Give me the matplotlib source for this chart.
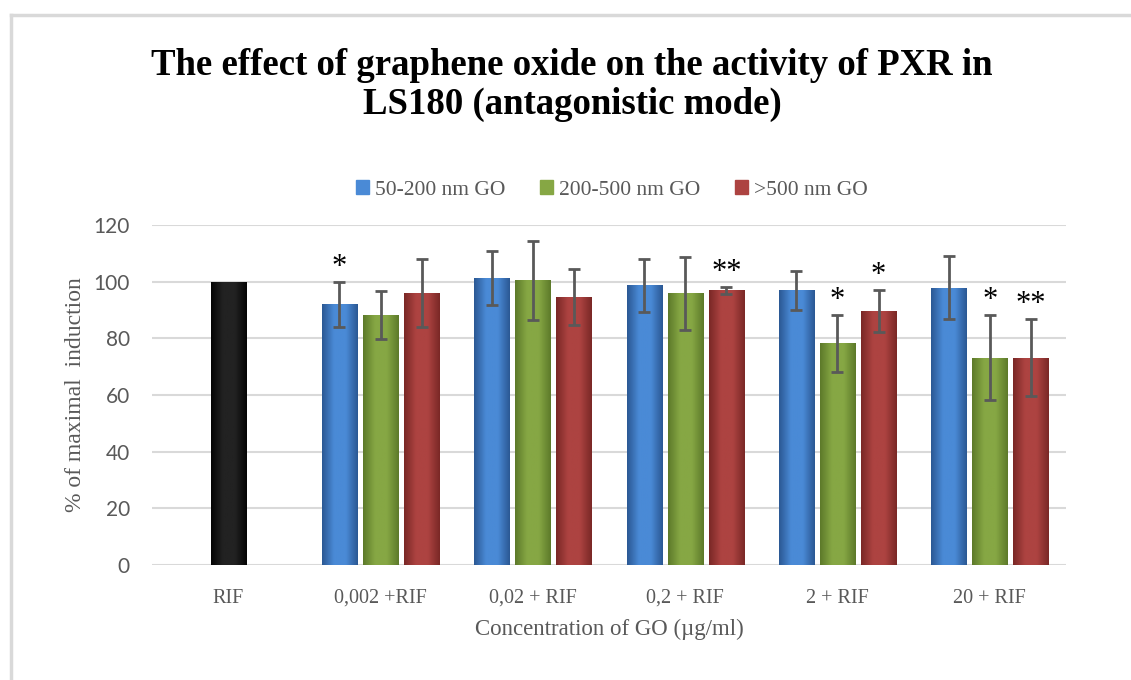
import matplotlib.pyplot as plt
import numpy as np
from matplotlib.lines import Line2D
from matplotlib.colors import LinearSegmentedColormap

# data
categories = ['RIF', '0,002 +RIF', '0,02 + RIF', '0,2 + RIF', '2 + RIF', '20 + RIF']
series = ['50-200 nm GO', '200-500 nm GO', '>500 nm GO']
rif_value = 100
small_go = [92.0, 101.4, 98.7, 96.9, 97.9]
small_err = [8.0, 9.5, 9.3, 6.8, 11.0]
mid_go = [88.2, 100.5, 95.9, 78.2, 73.1]
mid_err = [8.5, 14.0, 12.8, 10.0, 15.0]
large_go = [95.9, 94.6, 96.9, 89.6, 73.1]
large_err = [12.0, 10.0, 1.2, 7.3, 13.6]
small_stars = ['*', '', '', '', '']
mid_stars = ['', '', '', '*', '*']
large_stars = ['', '', '**', '*', '**']

# (edge, centre) colours for the bar gradient
shades = [('#2b5894', '#4a8ad6'), ('#5d7a2a', '#86a744'), ('#7a2826', '#ad4341')]
black_shade = ('#050505', '#222222')

fig = plt.figure(figsize=(11.31, 6.8), dpi=100)
ax = fig.add_axes([152/1131, 115/680, 914/1131, 340/680])

serif = 'Liberation Serif'
grey = '#595959'


def gradient_bar(ax, x, h, w, colors):
    bar = ax.bar(x, h, w, color=colors[1], zorder=2)[0]
    cmap = LinearSegmentedColormap.from_list('g', [colors[0], colors[1], colors[1], colors[0]])
    grad = np.linspace(0, 1, 64).reshape(1, -1)
    im = ax.imshow(grad, cmap=cmap, aspect='auto', extent=(x - w/2, x + w/2, 0, h), zorder=2.1)
    im.set_clip_path(bar)
    return bar


w = 0.23
off = 0.27
xs = np.arange(1, len(categories))

gradient_bar(ax, 0, rif_value, w, black_shade)

groups = [(small_go, small_err, small_stars), (mid_go, mid_err, mid_stars), (large_go, large_err, large_stars)]
for i, (vals, errs, stars) in enumerate(groups):
    pos = xs + (i - 1) * off
    for x, v in zip(pos, vals):
        gradient_bar(ax, x, v, w, shades[i])
    ax.errorbar(pos, vals, yerr=errs, fmt='none', ecolor=grey, elinewidth=2, capsize=4, capthick=2, zorder=3)
    for x, v, e, s in zip(pos, vals, errs, stars):
        if s:
            ax.text(x, v + e + 2.5, s, ha='center', va='baseline', fontsize=22, family=serif, color='black')

ax.set_xlim(-0.5, len(categories) - 0.5)
ax.set_ylim(0, 120)
ax.set_yticks(range(0, 121, 20))
ax.set_xticks(range(len(categories)))
ax.set_xticklabels(categories, family=serif, fontsize=14.5, color=grey)
ax.tick_params(axis='y', labelsize=15, labelcolor=grey, length=0, pad=16)
for lbl in ax.get_yticklabels():
    lbl.set_family('Lato')
ax.tick_params(axis='x', length=0, pad=17)
ax.grid(axis='y', color='#d9d9d9', linewidth=1.5, zorder=0)
ax.set_axisbelow(True)
for sp in ax.spines.values():
    sp.set_visible(False)

ax.set_ylabel('% of maximal  induction', family=serif, fontsize=17, color=grey, labelpad=5)
ax.set_xlabel('Concentration of GO (µg/ml)', family=serif, fontsize=16.5, color=grey, labelpad=8)

fig.text(572/1131, 1 - 85/680, 'The effect of graphene oxide on the activity of PXR in\nLS180 (antagonistic mode)',
         ha='center', va='center', family=serif, fontweight='bold', fontsize=26.5, linespacing=1.14)

handles = [plt.Rectangle((0, 0), 1, 1, color=c[1]) for c in shades]
fig.legend(handles, series, loc='center', bbox_to_anchor=(612/1131, 1 - 190/680), ncol=3, frameon=False,
           prop={'family': serif, 'size': 15.5}, handlelength=0.6, handleheight=0.6, handletextpad=0.3,
           columnspacing=1.6, labelcolor=grey)

# light frame of the chart area
fig.add_artist(Line2D([11/1131, 11/1131], [0, 1 - 15/680], color='#d9d9d9', linewidth=2.5))
fig.add_artist(Line2D([11/1131, 1], [1 - 15/680, 1 - 15/680], color='#d9d9d9', linewidth=2.5))

fig.savefig('out.png', dpi=100)
